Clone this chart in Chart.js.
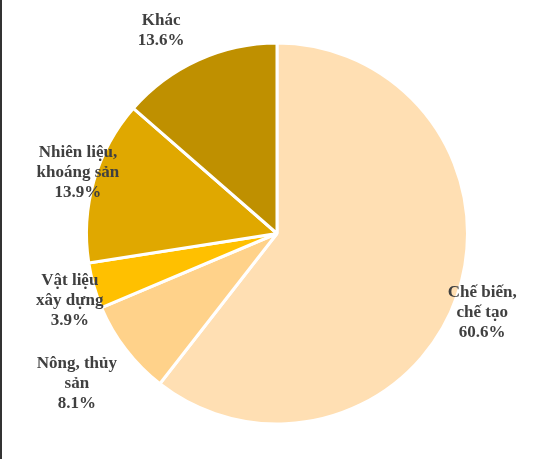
<!DOCTYPE html>
<html>
<head>
<meta charset="utf-8">
<script src="https://cdn.jsdelivr.net/npm/chart.js@4"></script>
<style>
  html, body { margin: 0; padding: 0; background: #fff; }
  #wrap { position: relative; width: 555px; height: 459px; }
  #wrap::before { content: ""; position: absolute; left: 0; top: 0; width: 2px; height: 459px; background: #333; z-index: 2; }
</style>
</head>
<body>
<div id="wrap"><canvas id="pieChart" width="555" height="459"></canvas></div>
<script>
const sectors = [["Chế biến,", "chế tạo"], ["Nông, thủy", "sản"], ["Vật liệu", "xây dựng"], ["Nhiên liệu,", "khoáng sản"], ["Khác"]];
const shares = [60.6, 8.1, 3.9, 13.9, 13.6];
const sliceColors = ["#FFDFB3", "#FFD28A", "#FFC000", "#E0A800", "#BF9000"];

// label offsets from the outer midpoint of each slice
const labelShift = [[25, 17], [-49, 34], [-24, 15], [-16, -8], [-37, -29]];

const outsideLabels = {
  id: "outsideLabels",
  afterDatasetsDraw(chart) {
    const ctx = chart.ctx;
    const meta = chart.getDatasetMeta(0);
    ctx.save();
    ctx.font = "bold 17px 'Liberation Serif', 'Times New Roman', serif";
    ctx.fillStyle = "#404040";
    ctx.textAlign = "center";
    ctx.textBaseline = "middle";
    meta.data.forEach((arc, i) => {
      const p = arc.getProps(["x", "y", "startAngle", "endAngle", "outerRadius"], true);
      const mid = (p.startAngle + p.endAngle) / 2;
      const cx = p.x + Math.cos(mid) * p.outerRadius + labelShift[i][0];
      const cy = p.y + Math.sin(mid) * p.outerRadius + labelShift[i][1];
      const lines = sectors[i].concat([shares[i].toFixed(1) + "%"]);
      const lh = 20;
      const top = cy - (lines.length - 1) * lh / 2;
      lines.forEach((t, j) => ctx.fillText(t, cx, top + j * lh));
    });
    ctx.restore();
  }
};

new Chart(document.getElementById("pieChart").getContext("2d"), {
  type: "pie",
  data: {
    labels: sectors.map(s => s.join(" ")),
    datasets: [{
      data: shares,
      backgroundColor: sliceColors,
      borderColor: "#ffffff",
      borderWidth: 3
    }]
  },
  options: {
    responsive: false,
    animation: false,
    layout: { padding: { top: 41, bottom: 33, left: 85, right: 86 } },
    plugins: {
      legend: { display: false },
      tooltip: { enabled: false }
    }
  },
  plugins: [outsideLabels]
});
</script>
</body>
</html>
